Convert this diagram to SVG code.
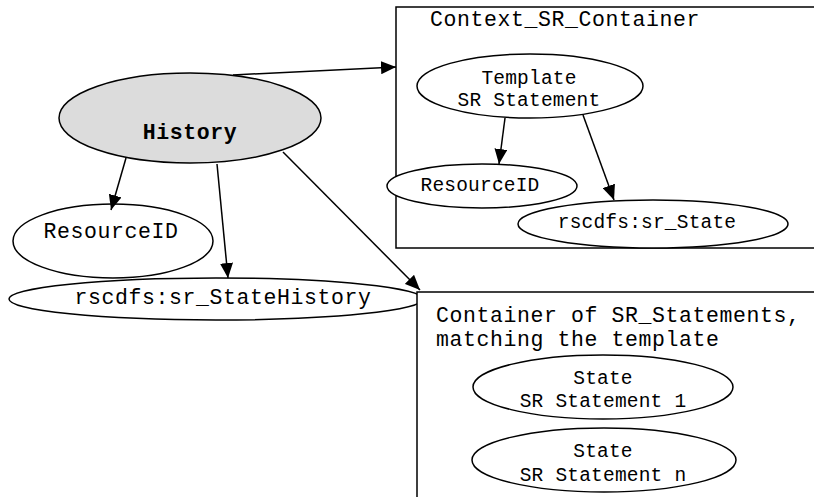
<svg xmlns="http://www.w3.org/2000/svg" width="814" height="497" viewBox="0 0 814 497">
<style>
.n{fill:#fff;stroke:#000;stroke-width:1.5}
.box{fill:#fff;stroke:#000;stroke-width:1.5}
.t{font-family:"Liberation Mono","Courier New",monospace;font-size:21.5px;letter-spacing:0.6px;fill:#000}
.s{font-family:"Liberation Mono","Courier New",monospace;font-size:19.5px;letter-spacing:0.2px;fill:#000}
.c{stroke:#000;stroke-width:1.5;fill:none;marker-end:url(#ah)}
</style>
<defs>
<marker id="ah" viewBox="0 0 15 13" refX="15" refY="6.5" markerWidth="15" markerHeight="13" markerUnits="userSpaceOnUse" orient="auto">
<path d="M0,0 L15,6.5 L0,13 Z" fill="#000"/>
</marker>
</defs>
<g id="stateHistory">
<ellipse class="n" cx="216" cy="299" rx="207" ry="21"/>
<text class="t" x="223" y="304" text-anchor="middle">rscdfs:sr_StateHistory</text>
</g>
<g id="contextContainer">
<rect class="box" x="396" y="7" width="420" height="241"/>
<text class="t" x="430" y="26">Context_SR_Container</text>
</g>
<g id="templateStatement">
<ellipse class="n" cx="530" cy="86" rx="113" ry="32"/>
<text class="s" x="529" y="84" text-anchor="middle">Template</text>
<text class="s" x="529" y="106" text-anchor="middle">SR Statement</text>
</g>
<g id="innerResourceID">
<ellipse class="n" cx="482" cy="186" rx="95" ry="22"/>
<text class="s" x="480" y="191" text-anchor="middle">ResourceID</text>
</g>
<g id="srState">
<ellipse class="n" cx="653" cy="224" rx="135" ry="24"/>
<text class="s" x="647" y="228" text-anchor="middle">rscdfs:sr_State</text>
</g>
<g id="statementsContainer">
<rect class="box" x="417" y="292" width="400" height="210"/>
<text class="t" x="436" y="322">Container of SR_Statements,</text>
<text class="t" x="436" y="346">matching the template</text>
</g>
<g id="state1">
<ellipse class="n" cx="603" cy="387" rx="130" ry="32"/>
<text class="s" x="603" y="384" text-anchor="middle">State</text>
<text class="s" x="603" y="407" text-anchor="middle">SR Statement 1</text>
</g>
<g id="stateN">
<ellipse class="n" cx="604" cy="460" rx="132" ry="32"/>
<text class="s" x="603" y="457" text-anchor="middle">State</text>
<text class="s" x="603" y="481" text-anchor="middle">SR Statement n</text>
</g>
<g id="history">
<ellipse cx="190" cy="118" rx="131" ry="45" fill="#dcdcdc" stroke="#000" stroke-width="1.5"/>
<text class="t" x="190" y="139" text-anchor="middle" font-weight="bold">History</text>
</g>
<g id="resourceID">
<ellipse class="n" cx="113" cy="241" rx="100" ry="37"/>
<text class="t" x="111" y="238" text-anchor="middle">ResourceID</text>
</g>
<g id="connectors">
<line class="c" x1="233" y1="75" x2="396" y2="67"/>
<line class="c" x1="126" y1="158" x2="111" y2="210"/>
<line class="c" x1="217" y1="164" x2="228" y2="278"/>
<line class="c" x1="283" y1="152" x2="420" y2="290"/>
<line class="c" x1="505" y1="118" x2="499" y2="164"/>
<line class="c" x1="583" y1="115" x2="614" y2="200"/>
</g>
</svg>
